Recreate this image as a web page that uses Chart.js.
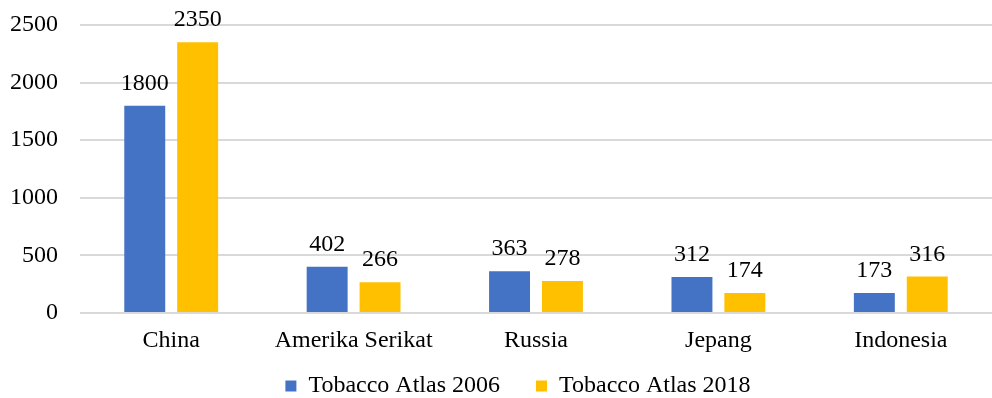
<!DOCTYPE html>
<html>
<head>
<meta charset="utf-8">
<script src="https://cdn.jsdelivr.net/npm/chart.js@4"></script>
<style>
  html, body { margin: 0; padding: 0; background: #fff; }
  #wrap { width: 992px; height: 398px; }
</style>
</head>
<body>
<div id="wrap"><canvas id="chart-bar"></canvas></div>
<script>
var countries = ['China', 'Amerika Serikat', 'Russia', 'Jepang', 'Indonesia'];
var atlas2006 = [1800, 402, 363, 312, 173];
var atlas2018 = [2350, 266, 278, 174, 316];
var yTicks = [0, 500, 1000, 1500, 2000, 2500];

var serif = "'Liberation Serif', 'Times New Roman', serif";

// writes the value above each bar
var valueLabels = {
    id: 'valueLabels',
    afterDatasetsDraw: function (chart) {
        var ctx = chart.ctx;
        ctx.save();
        ctx.font = '24px ' + serif;
        ctx.fillStyle = '#000';
        ctx.textAlign = 'center';
        ctx.textBaseline = 'alphabetic';
        chart.data.datasets.forEach(function (ds, i) {
            chart.getDatasetMeta(i).data.forEach(function (bar, j) {
                ctx.fillText(ds.data[j], bar.x, bar.y - 16);
            });
        });
        ctx.restore();
    }
};

var ctx = document.getElementById('chart-bar').getContext('2d');
var myBarChart = new Chart(ctx, {
    type: 'bar',
    data: {
        labels: countries,
        datasets: [{
            label: 'Tobacco Atlas 2006',
            data: atlas2006,
            backgroundColor: '#4472C4',
            barPercentage: 0.774,
            categoryPercentage: 0.58
        }, {
            label: 'Tobacco Atlas 2018',
            data: atlas2018,
            backgroundColor: '#FFC000',
            barPercentage: 0.774,
            categoryPercentage: 0.58
        }]
    },
    options: {
        responsive: true,
        maintainAspectRatio: false,
        animation: false,
        layout: { padding: { left: 0, right: 0, top: 25, bottom: -10 } },
        scales: {
            x: {
                grid: { display: false },
                border: { display: false },
                ticks: { color: '#000', font: { family: serif, size: 24 }, padding: 5 },
                afterFit: function (axis) { axis.height = 55; }
            },
            y: {
                min: 0,
                max: 2500,
                afterBuildTicks: function (axis) {
                    axis.ticks = yTicks.map(function (v) { return { value: v }; });
                },
                grid: { color: '#D9D9D9', lineWidth: 2, drawTicks: false },
                border: { display: false },
                ticks: {
                    color: '#000',
                    font: { family: serif, size: 24 },
                    padding: 22,
                    callback: function (v) { return String(v); }
                },
                afterFit: function (axis) {
                    axis.width = 80;
                    axis.paddingTop = 0;
                    axis.paddingBottom = 0;
                }
            }
        },
        plugins: {
            legend: {
                position: 'bottom',
                fullSize: false,
                labels: {
                    color: '#000',
                    font: { family: serif, size: 24 },
                    boxWidth: 11,
                    boxHeight: 11,
                    padding: 6,
                    generateLabels: function (chart) {
                        var items = Chart.defaults.plugins.legend.labels.generateLabels(chart);
                        // wider gap between the entries, row nudged left
                        items[0].text += '\u2003 ';
                        items[1].text += '\u2003\u2002';
                        return items;
                    }
                }
            },
            tooltip: { enabled: false }
        }
    },
    plugins: [valueLabels]
});
</script>
</body>
</html>
